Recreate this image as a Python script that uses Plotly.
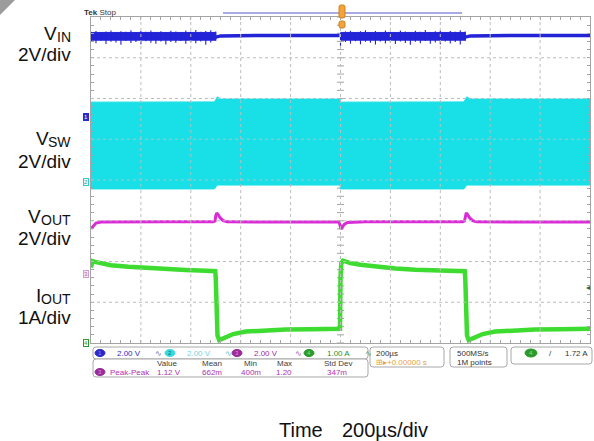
import plotly.graph_objects as go

W, H = 594, 441

# ---------------- data (time in µs, physical units) ----------------
# I_OUT (A), 1 A/div
iout_t = [-1000, -994, -984, -960, -920, -850, -780, -700, -620, -540, -502,
          -500, -497, -493, -486, -476, -460, -430, -380, -300, -220, -120, -2,
          0, 3, 10, 18, 40, 80, 150, 220, 300, 380, 460, 498,
          500, 503, 507, 514, 524, 540, 570, 620, 700, 780, 880, 1000]
iout_a = [1.85, 2.01, 1.99, 1.95, 1.91, 1.87, 1.84, 1.81, 1.79, 1.77, 1.76,
          1.60, 0.60, 0.18, 0.07, 0.10, 0.15, 0.22, 0.28, 0.31, 0.33, 0.34, 0.35,
          1.60, 1.95, 2.02, 2.00, 1.96, 1.92, 1.87, 1.83, 1.80, 1.78, 1.77, 1.76,
          1.60, 0.60, 0.18, 0.07, 0.10, 0.15, 0.22, 0.28, 0.31, 0.33, 0.34, 0.35]

# V_OUT (V), 2 V/div
vout_t = [-1000, -992, -980, -960, -900, -700, -510, -503, -500, -496, -490, -482, -470, -455, -300, -100, -6,
          -2, 2, 8, 16, 28, 100, 300, 490, 497, 500, 504, 510, 518, 530, 545, 700, 1000]
vout_v = [2.22, 2.35, 2.50, 2.55, 2.56, 2.56, 2.56, 2.60, 2.85, 3.00, 2.90, 2.75, 2.62, 2.56, 2.55, 2.55, 2.55,
          2.40, 2.22, 2.32, 2.45, 2.53, 2.56, 2.56, 2.56, 2.60, 2.85, 3.00, 2.90, 2.75, 2.62, 2.56, 2.55, 2.55]

# V_SW (V), 2 V/div : switching envelope (top / bottom)
vsw_t = [-1000, -505, -500, -494, -480, -2, 0, 495, 500, 506, 520, 1000]
vsw_hi = [3.92, 3.93, 4.05, 4.18, 4.07, 4.07, 3.92, 3.93, 4.05, 4.18, 4.07, 4.07]
vsw_lo = [-0.34, -0.34, -0.25, -0.15, -0.15, -0.15, -0.34, -0.34, -0.25, -0.15, -0.15, -0.15]

# V_IN (V), 2 V/div
vin_core_hi = 4.15            # dense ripple band during heavy load
vin_core_lo = 3.77
vin_noisy1_t = list(range(-1000, -499, 20))
vin_noisy1_hi = [4.17, 4.22, 4.16, 4.20, 4.24, 4.16, 4.21, 4.18, 4.26, 4.16, 4.22, 4.19, 4.25,
                 4.17, 4.21, 4.16, 4.23, 4.20, 4.16, 4.24, 4.19, 4.27, 4.18, 4.22, 4.26, 4.20]
vin_noisy1_lo = [3.70, 3.62, 3.74, 3.58, 3.69, 3.66, 3.55, 3.73, 3.63, 3.68, 3.57, 3.72, 3.65,
                 3.60, 3.70, 3.56, 3.68, 3.64, 3.73, 3.59, 3.67, 3.62, 3.70, 3.55, 3.66, 3.74]
vin_noisy2_t = list(range(0, 501, 20))
vin_noisy2_hi = [4.12, 4.20, 4.23, 4.16, 4.21, 4.26, 4.17, 4.22, 4.16, 4.24, 4.19, 4.16, 4.25,
                 4.20, 4.16, 4.23, 4.18, 4.27, 4.17, 4.21, 4.24, 4.16, 4.22, 4.19, 4.26, 4.20]
vin_noisy2_lo = [3.50, 3.68, 3.60, 3.72, 3.57, 3.69, 3.64, 3.56, 3.71, 3.61, 3.67, 3.58, 3.70,
                 3.63, 3.55, 3.69, 3.62, 3.73, 3.59, 3.66, 3.57, 3.70, 3.61, 3.68, 3.56, 3.74]
vin_clean_t = [-500, -480, -300, -100, -4, None, 500, 520, 700, 900, 1000]
vin_clean_v = [3.92, 3.98, 4.00, 4.00, 4.00, None, 3.92, 3.98, 4.00, 4.00, 4.00]

# channel setup: (units per div, ground position in divisions from bottom)
ch_scale = {"VIN": 2.0, "VSW": 2.0, "VOUT": 2.0, "IOUT": 1.0}
ch_ground = {"VIN": 5.546, "VSW": 3.951, "VOUT": 1.693, "IOUT": 0.0}

C_VIN, C_VSW, C_VOUT, C_IOUT = "#2323d8", "#18e0e6", "#da2cd6", "#3edc30"
GRID = "#bcbcbc"
FRAME = "#a4a4a4"

# ---------------- geometry helpers (layout only) ----------------
PX0, PX1, PY0, PY1 = 91, 590, 17, 343


def px(x):
    return x / W


def py(y):
    return 1 - y / H


def yrange(ch):
    s, g = ch_scale[ch], ch_ground[ch]
    return [-g * s, (8 - g) * s]


fig = go.Figure()

# graticule ticks on centre lines
tick_x = list(range(-1000, 1001, 40))
tick_y = [i * 0.2 for i in range(41)]
fig.add_trace(go.Scatter(x=tick_x, y=[4] * len(tick_x), mode="markers", yaxis="y",
                         marker=dict(symbol="line-ns", size=5, line=dict(color=FRAME, width=1)),
                         hoverinfo="skip", showlegend=False))
fig.add_trace(go.Scatter(x=[0] * len(tick_y), y=tick_y, mode="markers", yaxis="y",
                         marker=dict(symbol="line-ew", size=5, line=dict(color=FRAME, width=1)),
                         hoverinfo="skip", showlegend=False))

# I_OUT
fig.add_trace(go.Scatter(x=iout_t, y=iout_a, mode="lines", yaxis="y",
                         line=dict(color=C_IOUT, width=4.5), showlegend=False))
# V_OUT
fig.add_trace(go.Scatter(x=vout_t, y=vout_v, mode="lines", yaxis="y2",
                         line=dict(color=C_VOUT, width=3), showlegend=False))
# V_SW band
fig.add_trace(go.Scatter(x=vsw_t + vsw_t[::-1], y=vsw_hi + vsw_lo[::-1], mode="lines",
                         fill="toself", fillcolor=C_VSW, yaxis="y3",
                         line=dict(color=C_VSW, width=1), showlegend=False))
# V_IN noisy parts: dense core band + individual spikes
for t, hi, lo in [(vin_noisy1_t, vin_noisy1_hi, vin_noisy1_lo),
                  (vin_noisy2_t, vin_noisy2_hi, vin_noisy2_lo)]:
    fig.add_trace(go.Scatter(x=[t[0], t[-1], t[-1], t[0]],
                             y=[vin_core_hi, vin_core_hi, vin_core_lo, vin_core_lo],
                             mode="lines", fill="toself", fillcolor=C_VIN, yaxis="y4",
                             line=dict(color=C_VIN, width=1), showlegend=False))
    sx, sy = [], []
    for ti, h, l in zip(t, hi, lo):
        sx += [ti, ti, None]
        sy += [h, l, None]
    fig.add_trace(go.Scatter(x=sx, y=sy, mode="lines", yaxis="y4",
                             line=dict(color=C_VIN, width=1.1), showlegend=False))
# V_IN clean parts
fig.add_trace(go.Scatter(x=vin_clean_t, y=vin_clean_v, mode="lines", yaxis="y4",
                         line=dict(color=C_VIN, width=3.5), showlegend=False, connectgaps=False))

dom_x = [px(PX0), px(PX1)]
dom_y = [py(PY1), py(PY0)]
hid = dict(visible=False, fixedrange=True)
fig.update_layout(
    width=W, height=H, margin=dict(l=0, r=0, t=0, b=0),
    paper_bgcolor="white", plot_bgcolor="white",
    xaxis=dict(domain=dom_x, range=[-1000, 1000], showgrid=False, zeroline=False,
               showticklabels=False, ticks="inside", tick0=-1000, dtick=40, ticklen=3,
               tickcolor=FRAME, showline=True, linecolor=FRAME, mirror="ticks"),
    yaxis=dict(domain=dom_y, range=yrange("IOUT"), showgrid=False, zeroline=False,
               showticklabels=False, ticks="inside", tick0=0, dtick=0.2, ticklen=3,
               tickcolor=FRAME, showline=True, linecolor=FRAME, mirror="ticks"),
    yaxis2=dict(overlaying="y", range=yrange("VOUT"), **hid),
    yaxis3=dict(overlaying="y", range=yrange("VSW"), **hid),
    yaxis4=dict(overlaying="y", range=yrange("VIN"), **hid),
    showlegend=False,
)

shapes = []
# dotted graticule
for gx in range(-800, 801, 200):
    shapes.append(dict(type="line", xref="x", yref="y", x0=gx, x1=gx, y0=0, y1=8,
                       line=dict(color=GRID, width=1, dash="dot"), layer="above"))
for gy in range(1, 8):
    shapes.append(dict(type="line", xref="x", yref="y", x0=-1000, x1=1000, y0=gy, y1=gy,
                       line=dict(color=GRID, width=1, dash="dot"), layer="above"))


def rrect(x0, y0, x1, y1, r=3):
    return (f"M{px(x0 + r)},{py(y0)} L{px(x1 - r)},{py(y0)} Q{px(x1)},{py(y0)} {px(x1)},{py(y0 + r)} "
            f"L{px(x1)},{py(y1 - r)} Q{px(x1)},{py(y1)} {px(x1 - r)},{py(y1)} "
            f"L{px(x0 + r)},{py(y1)} Q{px(x0)},{py(y1)} {px(x0)},{py(y1 - r)} "
            f"L{px(x0)},{py(y0 + r)} Q{px(x0)},{py(y0)} {px(x0 + r)},{py(y0)} Z")


def box(x0, y0, x1, y1, color="#a8a8a8", fill="white"):
    shapes.append(dict(type="path", xref="paper", yref="paper", path=rrect(x0, y0, x1, y1),
                       line=dict(color=color, width=1), fillcolor=fill, layer="above"))


def oval(cx, cy, color, w=10, h=7):
    shapes.append(dict(type="circle", xref="paper", yref="paper",
                       x0=px(cx - w / 2), x1=px(cx + w / 2), y0=py(cy + h / 2), y1=py(cy - h / 2),
                       line=dict(color=color, width=1), fillcolor=color, layer="above"))


# top-left folded corner
shapes.append(dict(type="path", xref="paper", yref="paper",
                   path=f"M0,1 L{px(15)},1 L0,{py(15)} Z", fillcolor="#9c9c9c",
                   line=dict(width=0), layer="above"))
# top lavender bar and trigger marker
shapes.append(dict(type="line", xref="paper", yref="paper", x0=px(223), x1=px(462), y0=py(13), y1=py(13),
                   line=dict(color="#a9a9e6", width=2), layer="above"))
shapes.append(dict(type="path", xref="paper", yref="paper", path=rrect(339, 5, 345, 18, 2),
                   fillcolor="#f2a43a", line=dict(color="#d08020", width=1), layer="above"))
shapes.append(dict(type="path", xref="paper", yref="paper", path=rrect(339, 21, 345, 28, 2),
                   fillcolor="#f2a43a", line=dict(color="#d08020", width=1), layer="above"))

# info panel boxes
box(93, 347, 368, 359)
box(93, 359, 368, 377)
box(370, 347, 444, 367)
box(450, 347, 507, 367)
box(511, 347, 592, 364)
oval(100, 353, "#2a2ac8")
oval(170, 353, "#38d8e0")
oval(237, 353, "#9a2a9a")
oval(309, 353, "#2a9a2a")
oval(100, 372, "#9a2a9a")
oval(531, 353, "#2a9a2a", w=12, h=8)

fig.update_layout(shapes=shapes)

anns = []


def ann(text, x, y, size=8, color="#333333", xanchor="left", family="Liberation Sans", **kw):
    anns.append(dict(text=text, x=px(x), y=py(y), xref="paper", yref="paper", showarrow=False,
                     xanchor=xanchor, yanchor="middle", font=dict(size=size, color=color, family=family),
                     **kw))


# left channel labels (main letter + manual subscript)
LBL, SUB, RX = 19, 14, 72
INK = "#111111"
for main, sub, sub_w, ymain, ysub, yscale, scale_txt in [
        ("V", "IN", 14, 33.5, 37, 54.5, "2V/div"),
        ("V", "SW", 22.5, 138.5, 142, 161, "2V/div"),
        ("V", "OUT", 29.6, 216.5, 220, 238, "2V/div"),
        ("I", "OUT", 29.6, 295.5, 299, 317, "1A/div")]:
    ann(sub, RX, ysub, SUB, INK, "right", borderpad=0)
    ann(main, RX - sub_w, ymain, LBL, INK, "right", borderpad=0)
    ann(scale_txt, RX, yscale, LBL, INK, "right", borderpad=0)

# bottom time label
ann("Time", 277, 430, 20, INK)
ann("200µs/div", 340, 430, 20, INK)

# top
ann("<b>Tek</b> Stop", 82, 13, 8, "#333333")


# channel ground markers
def marker(text, y, fg, bg, border):
    anns.append(dict(text=text, x=px(86), y=py(y), xref="paper", yref="paper", showarrow=False,
                     xanchor="center", yanchor="middle", font=dict(size=6, color=fg, family="Liberation Sans"),
                     bgcolor=bg, bordercolor=border, borderwidth=1, borderpad=0))


marker("1", 117, "white", "#2a2ac8", "#2a2ac8")
marker("2", 182, "#18a8b0", "#e6fbfc", "#30c8d0")
marker("3", 274, "#b060b0", "#f6e8f6", "#d0a0d0")
marker("4", 343, "#2a9a2a", "white", "#2a9a2a")
ann("◂", 588, 287, 8, "#306030", "center")

# info panel text
ann("1", 100, 353, 6, "#9090ff", "center")
ann("2.00 V", 115, 353, 8, "#2a2ac0")
ann("∿", 153, 353, 8, "#6a6aa0")
ann("2", 170, 353, 6, "#106870", "center")
ann("2.00 V", 185, 353, 8, "#70d0e0")
ann("∿", 223, 353, 8, "#50c0d0")
ann("3", 237, 353, 6, "#e090e0", "center")
ann("2.00 V", 252, 353, 8, "#a02aa0")
ann("∿", 293, 353, 8, "#a050a0")
ann("4", 309, 353, 6, "#90e090", "center")
ann("1.00 A", 325, 353, 8, "#2a902a")
ann("∿", 363, 353, 8, "#50a050")

for txt, cx in [("Value", 167), ("Mean", 212), ("Min", 250), ("Max", 284), ("Std Dev", 338)]:
    ann(txt, cx, 363, 8, "#404040", "center")
ann("3", 100, 372, 6, "#e090e0", "center")
ann("Peak-Peak", 108, 372, 8, "#b030b0")
for txt, cx in [("1.12 V", 169), ("662m", 212), ("400m", 251), ("1.20", 284), ("347m", 337)]:
    ann(txt, cx, 372, 8, "#b030b0", "center")

ann("200µs", 374, 353, 8, "#333333")
ann("⊞▸+0.00000 s", 374, 362, 8, "#e8a040")
ann("500MS/s", 455, 353, 8, "#333333")
ann("1M points", 455, 362, 8, "#333333")
ann("4", 531, 353, 6, "#90e090", "center")
ann("/", 550, 353, 8, "#333333", "center")
ann("1.72 A", 590, 353, 8, "#333333", "right")

fig.update_layout(annotations=anns)

fig.write_html("out.html", config={"displayModeBar": False},
               post_script="document.body.style.margin='0';document.body.style.overflow='hidden';")
